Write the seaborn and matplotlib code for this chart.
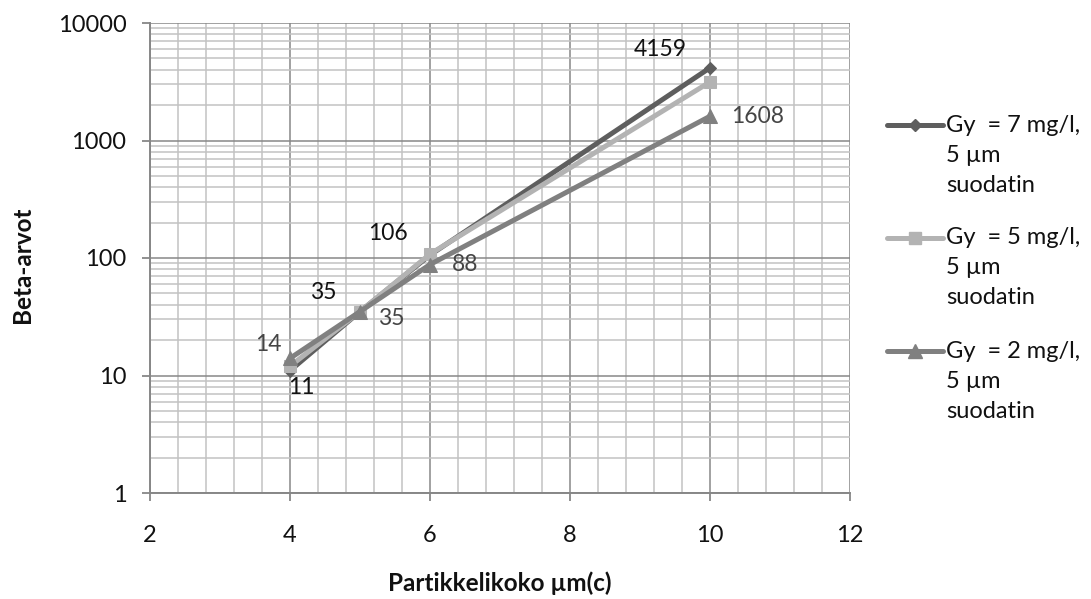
import matplotlib
matplotlib.use("Agg")
import matplotlib.pyplot as plt
import seaborn as sns
import pandas as pd
import numpy as np
from matplotlib.lines import Line2D
from matplotlib.ticker import MultipleLocator, LogLocator, FixedLocator, FixedFormatter

# ---- data ----
sizes = [4, 5, 6, 10]
series_names = ["Gy  = 7 mg/l,", "Gy  = 5 mg/l,", "Gy  = 2 mg/l,"]
series_sub = "5 µm\nsuodatin"
beta_7 = [11, 35, 106, 4159]
beta_5 = [12, 35, 108, 3150]
beta_2 = [14, 35, 88, 1608]
y_ticks = [1, 10, 100, 1000, 10000]
x_ticks = [2, 4, 6, 8, 10, 12]

sns.set_theme(style="white")
plt.rcParams['font.family'] = ['Lato', 'DejaVu Sans']

df = pd.DataFrame({
    "x": sizes * 3,
    "y": beta_7 + beta_5 + beta_2,
    "s": [series_names[0]] * 4 + [series_names[1]] * 4 + [series_names[2]] * 4,
})

colors = ["#5e5e5e", "#b3b3b3", "#808080"]
markers = ["D", "s", "^"]
msizes = [6.5, 8.5, 10]
LW = 3.6

W, H = 1091, 599
fig = plt.figure(figsize=(W / 100, H / 100), dpi=100)
ax = fig.add_axes([150 / W, 1 - 493 / H, 700 / W, 470 / H])

for name, c, m, ms in zip(series_names, colors, markers, msizes):
    sub = df[df["s"] == name]
    sns.lineplot(data=sub, x="x", y="y", ax=ax, color=c, marker=m, markersize=ms,
                 markeredgecolor=c, linewidth=LW, legend=False, zorder=3)

ax.set_yscale("log")
ax.set_xlim(2, 12)
ax.set_ylim(1, 10000)

ax.xaxis.set_major_locator(FixedLocator(x_ticks))
ax.xaxis.set_minor_locator(MultipleLocator(0.4))
ax.yaxis.set_major_locator(FixedLocator(y_ticks))
ax.yaxis.set_major_formatter(FixedFormatter([str(v) for v in y_ticks]))
ax.yaxis.set_minor_locator(LogLocator(base=10, subs=np.arange(2, 10)))
ax.yaxis.set_minor_formatter(plt.NullFormatter())

ax.grid(True, which="major", color="#878787", linewidth=1.1)
ax.grid(True, which="minor", color="#c2c2c2", linewidth=1.1)
ax.set_axisbelow(True)

for sp in ["top", "right"]:
    ax.spines[sp].set_visible(False)
for sp in ["left", "bottom"]:
    ax.spines[sp].set_color("#878787")
    ax.spines[sp].set_linewidth(1.4)

ax.tick_params(axis="both", which="major", direction="out", length=6, width=1.3,
               color="#878787", labelsize=17, labelcolor="#111111", left=True, bottom=True)
ax.tick_params(axis="x", pad=17)
ax.tick_params(axis="y", pad=11)
ax.tick_params(which="minor", length=0)

ax.set_xlabel("Partikkelikoko µm(c)", fontsize=17.5, fontweight="bold", color="#111111",
              va="center", ha="center")
ax.xaxis.set_label_coords(0.5, (493 - 583) / 470)
ax.set_ylabel("Beta-arvot", fontsize=17.5, fontweight="bold", color="#111111",
              va="center", ha="center")
ax.yaxis.set_label_coords((22 - 150) / 700, (493 - 265) / 470)

# data labels
lab_fs = 16.5
def lab(x, y, text, dx, dy, color):
    ax.annotate(text, (x, y), xytext=(dx, dy), textcoords="offset pixels",
                ha="center", va="center", fontsize=lab_fs, color=color)

black, dgray = "#111111", "#454545"
lab(sizes[3], beta_7[3], str(beta_7[3]), -50, 18, black)
lab(sizes[2], beta_7[2], str(beta_7[2]), -42, 22, black)
lab(sizes[1], beta_7[1], str(beta_7[1]), -37, 19, black)
lab(sizes[0], beta_7[0], str(beta_7[0]), 11, -17, black)
lab(sizes[3], beta_2[3], str(beta_2[3]), 48, 0, dgray)
lab(sizes[2], beta_2[2], str(beta_2[2]), 35, 0, dgray)
lab(sizes[1], beta_2[1], str(beta_2[1]), 31, -7, dgray)
lab(sizes[0], beta_2[0], str(beta_2[0]), -22, 14, dgray)

# legend (drawn with the handles aligned to the first text line, as in the original)
leg_y = [125, 238, 351]
for name, c, m, ms, yy in zip(series_names, colors, markers, msizes, leg_y):
    fy = 1 - yy / H
    fig.add_artist(Line2D([887 / W, 943 / W], [fy, fy], color=c, linewidth=LW,
                          transform=fig.transFigure))
    fig.add_artist(Line2D([915 / W], [fy], color=c, marker=m, markersize=ms,
                          markeredgecolor=c, linestyle="none", transform=fig.transFigure))
    fig.text(946 / W, fy, name, fontsize=17, color="#111111", ha="left", va="center")
    fig.text(946 / W, 1 - (yy + 30) / H, "5 µm", fontsize=17, color="#111111", ha="left", va="center")
    fig.text(946 / W, 1 - (yy + 60) / H, "suodatin", fontsize=17, color="#111111", ha="left", va="center")

fig.savefig("out.png", dpi=100)
